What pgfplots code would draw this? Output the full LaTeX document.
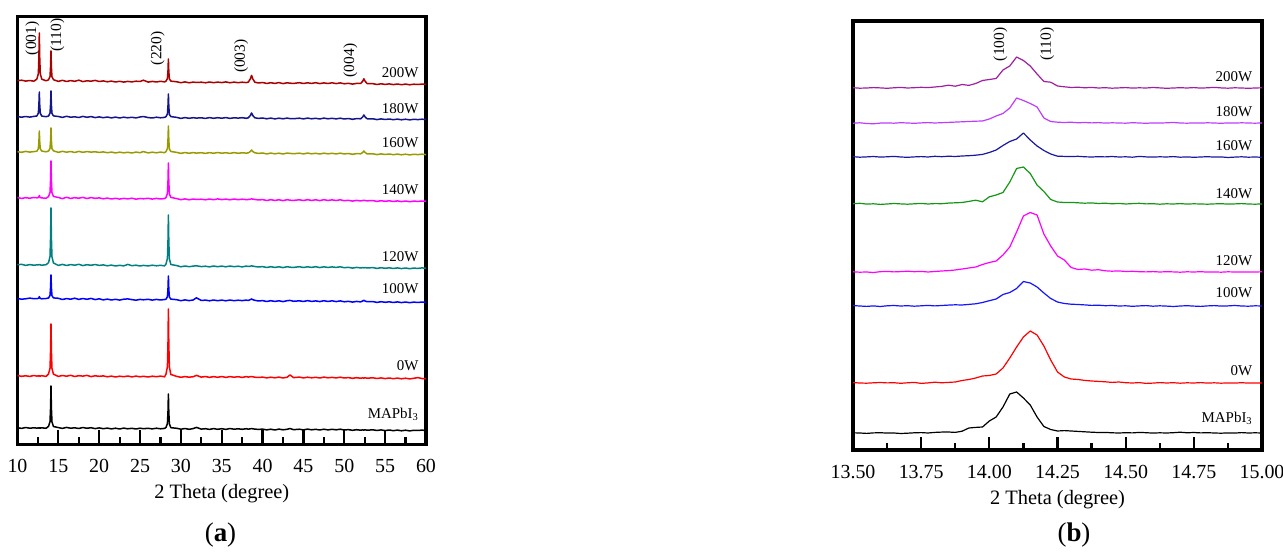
\documentclass[border=0pt]{standalone}
\usepackage{pgfplots}
\pgfplotsset{compat=1.18}
\usepackage{pgfplotstable}
\usepackage{fontspec}
\setmainfont{Liberation Serif}

% trace colours, panel (a)
\definecolor{aW200}{RGB}{170,0,0}
\definecolor{aW180}{RGB}{20,20,140}
\definecolor{aW160}{RGB}{153,153,0}
\definecolor{aW140}{RGB}{255,0,255}
\definecolor{aW120}{RGB}{0,128,128}
\definecolor{aW100}{RGB}{0,0,255}
\definecolor{aW0}{RGB}{255,0,0}
% trace colours, panel (b)
\definecolor{bW200}{RGB}{160,30,160}
\definecolor{bW180}{RGB}{190,60,255}
\definecolor{bW160}{RGB}{25,25,160}
\definecolor{bW140}{RGB}{20,150,20}
\definecolor{bW120}{RGB}{255,0,255}
\definecolor{bW100}{RGB}{20,20,255}
\definecolor{bW0}{RGB}{255,0,0}

\newcommand{\lbl}{\fontsize{15}{17}\selectfont}
\newcommand{\pk}{\fontsize{15.5}{17}\selectfont}
\newcommand{\tck}{\fontsize{20}{24}\selectfont}

% XRD patterns, offset intensities (a.u.)
% columns: a = MAPbI3, b = 0W, c = 100W, d = 120W, e = 140W, f = 160W, g = 180W, h = 200W
\pgfplotstableread{
x a b c d e f g h
10 17.3 69.4 146.5 180.2 247.4 293.3 328.4 364.3
10.5 16.6 68.7 145.8 180.7 246.6 292.7 327.8 364.8
11 17.5 69.2 146.2 179.6 247.3 293.6 328.5 363.9
11.5 16.8 68.6 146.9 180.4 246.8 292.9 327.9 364.5
12 17.2 69.5 146.3 179.8 247.5 293.4 328.6 363.8
12.37 16.9 68.9 146.4 180.1 247.2 293.8 329.0 365.9
12.55 17.1 69.2 146.6 180.1 247.4 296.2 331.8 371.2
12.62 16.8 68.8 147.3 180.3 248.2 303.5 340.5 388
12.67 17.0 69.0 148.3 180.5 249.5 314 353 412
12.72 17.2 69.1 147.3 180.3 248.3 303.5 340.5 388
12.79 16.9 68.9 146.6 180.1 247.4 296.2 331.8 371.2
12.97 17.2 69.3 146.2 179.8 247.1 293.9 328.9 365.8
13.5 16.7 68.6 146.5 180.3 246.7 293.2 328.3 364.2
13.8 18.7 71.1 147 182.3 248.5 294 329 365.2
13.98 23.3 76.8 149.6 188.6 252.6 296.6 331.9 368.5
14.05 38 95 158 208.5 265.5 305 341 379
14.1 59 121 170 237 284 317 354 394
14.15 37 94 157.5 207.5 264.5 304.5 340 378
14.22 23.0 76.5 149.3 188.2 252.3 296.3 331.6 368.2
14.4 18.5 70.8 147.1 182 248.6 294.2 329.1 365.3
15 17.4 68.6 146.7 179.6 247.5 292.6 328.5 363.6
15.5 16.6 69.5 145.5 180.6 246.4 293.7 327.6 364.7
16 17.6 68.8 146.4 179.5 247.7 292.8 328.7 363.5
16.5 16.8 69.7 145.8 180.4 246.6 293.5 327.8 364.4
17 17.2 68.5 146.8 179.8 247.3 292.5 328.2 363.7
17.5 16.5 69.3 145.6 180.7 246.8 293.6 327.5 364.8
18 17.5 68.9 146.5 179.4 247.6 292.7 328.6 363.4
18.5 16.7 69.6 145.7 180.3 246.5 293.4 327.7 364.2
19 17.3 68.4 146.6 179.7 247.4 292.9 328.4 363.8
19.5 16.4 69.2 145.4 180.5 246.7 293.2 327.4 364.6
20 17.1 68.7 146.2 179.6 247.1 292.6 328.1 363.5
20.5 16.3 69.1 145.1 180.1 246.2 293.1 327.3 364.1
21 16.9 68.2 145.9 179.2 246.9 292.3 328.0 363.2
21.5 16.1 68.9 145.0 179.9 246.0 292.9 327.1 363.9
22 16.8 68.0 145.7 179.0 246.7 292.1 327.9 363.0
22.5 16.0 68.8 144.9 179.7 245.9 292.8 327.0 363.7
23 16.9 68.3 145.8 179.1 246.6 292.2 327.8 362.9
23.5 16.2 69.0 146.1 180.6 246.1 292.7 327.2 363.6
24 16.7 68.1 145.4 179.3 246.8 292.0 327.7 363.1
24.5 16.0 68.9 144.8 179.8 245.8 292.9 327.1 363.8
25 16.8 68.2 145.6 179.0 246.5 292.3 328.0 363.5
25.4 16.3 68.7 145.2 179.6 246.2 293.4 328.5 364.8
26 16.7 68.0 145.7 179.1 246.7 292.1 327.4 362.9
26.5 16.1 68.8 144.9 179.8 245.9 292.8 327.0 363.6
27 16.8 68.3 145.6 179.2 246.6 292.2 327.8 363.0
27.5 16.2 68.9 145.0 179.7 246.0 292.9 327.2 363.7
28 16.6 68.2 145.5 179.1 246.5 292.3 327.6 363.1
28.17 17.5 70.8 145.7 180.8 247.4 293.4 328.3 363.8
28.35 21.4 78.3 148.3 186.5 251.4 296.3 330.9 366.4
28.42 33.6 102.1 156.7 204.3 264 305.8 339.3 374.4
28.47 51 136 169 230 282 319 351 386
28.52 33.0 101.5 156.2 203.8 263.5 305.3 338.8 373.9
28.59 21.1 78.0 148.0 186.2 251.1 296.0 330.6 366.1
28.77 17.3 70.5 145.9 180.5 247.6 293.5 328.4 363.9
29.5 16.7 68.6 145.3 179.4 246.4 292.6 327.6 363.2
30 15.8 67.7 144.3 178.2 245.3 291.6 326.6 362.3
30.5 16.5 68.4 145.1 179.0 246.1 292.5 327.4 363.1
31 15.7 67.8 144.4 178.3 245.2 291.7 326.7 362.2
31.5 16.4 68.3 145.0 178.9 246.0 292.4 327.3 362.9
31.9 17.6 69.6 147.2 179.2 245.5 291.9 326.9 362.5
32.5 15.9 67.9 144.5 178.4 245.8 292.3 327.2 362.8
33 16.3 68.5 144.9 178.8 245.2 291.6 326.6 362.2
33.5 15.6 67.6 144.2 178.1 246.0 292.4 327.4 363.0
34 16.4 68.4 145.0 179.0 245.3 291.7 326.7 362.3
34.5 15.7 67.7 144.3 178.3 246.1 292.5 327.3 362.9
35 16.3 68.5 144.9 178.9 245.4 291.8 326.8 362.4
35.5 15.6 67.6 144.2 178.2 245.9 292.3 327.4 363.1
36 16.5 68.4 145.0 179.0 245.2 291.6 326.6 362.2
36.5 15.8 67.8 144.3 178.3 246.0 292.4 327.2 362.9
37 16.2 68.3 144.8 178.8 245.3 291.7 326.9 362.3
37.5 15.7 67.6 144.4 178.1 245.8 292.2 327.3 362.8
38 16.3 68.4 144.9 178.9 245.4 291.9 326.7 362.4
38.25 15.8 67.9 144.5 178.5 245.5 292.1 327.2 362.9
38.5 16.2 68.3 145.4 178.8 245.8 293.5 329.5 366.1
38.65 16.4 68.5 146.1 179.1 246.1 295 332 369.6
38.8 16.2 68.2 145.3 178.9 245.9 293.5 329.5 366.1
39.05 15.9 67.8 144.7 178.5 245.6 292.2 327.2 362.8
39.5 15.6 67.5 144.0 178.0 245.0 291.6 326.6 362.0
40 15.9 67.9 144.4 178.4 245.4 292.0 327.0 362.5
40.5 15.1 67.1 143.5 177.5 244.5 291.1 326.2 361.5
41 15.8 67.8 144.3 178.3 245.3 291.9 326.9 362.3
41.5 15.0 67.2 143.6 177.6 244.6 291.2 326.1 361.6
42 15.9 67.9 144.2 178.2 245.2 291.8 326.8 362.4
42.5 15.2 67.0 143.4 177.4 244.4 291.0 326.2 361.4
43 15.7 67.8 144.3 178.3 245.3 291.9 326.9 362.2
43.35 16.5 70.0 144.6 177.8 244.8 291.6 326.4 361.8
43.8 15.3 67.4 143.7 177.6 244.6 291.3 326.3 361.6
44.5 15.8 67.9 144.2 178.3 245.2 291.8 326.8 362.3
45 15.1 67.1 143.5 177.5 244.5 291.1 326.1 361.5
45.5 15.9 67.8 144.4 178.2 245.3 291.9 326.9 362.2
46 15.2 67.2 143.6 177.6 244.6 291.2 326.2 361.6
46.5 15.7 67.7 144.1 178.3 245.2 291.7 326.7 362.3
47 15.0 67.0 143.4 177.4 244.4 291.0 326.0 361.4
47.5 15.8 67.9 144.3 178.2 245.3 291.8 326.9 362.1
48 15.1 67.2 143.5 177.5 244.6 291.2 326.2 361.5
48.5 15.7 67.6 144.2 178.1 245.1 291.7 326.7 362.2
49 15.2 67.1 143.4 177.6 244.5 291.1 326.1 361.4
49.5 15.8 67.8 144.1 178.2 245.2 291.8 326.8 362.1
50 15.0 67.0 143.2 177.3 244.3 291.1 326.0 361.2
50.5 15.4 67.4 143.7 177.7 244.7 291.5 326.5 361.7
51 14.7 66.7 142.9 176.9 243.9 290.7 325.7 360.9
51.5 15.3 67.3 143.6 177.6 244.6 291.4 326.4 361.6
52 14.8 66.8 143.1 177.1 244.1 291.2 326.2 361.5
52.25 15.1 67.1 144.0 177.3 244.5 292.5 328.0 363.7
52.4 14.9 66.9 144.7 177.2 244.7 294 330 366.2
52.55 15.2 67.2 143.9 177.4 244.4 292.5 328.0 363.7
52.8 14.8 66.8 143.3 177.0 244.2 291.1 326.2 361.4
53.5 15.2 67.2 143.4 177.4 244.4 291.2 326.2 361.3
54 14.5 66.5 142.6 176.6 243.6 290.4 325.4 360.5
54.5 15.1 67.1 143.3 177.3 244.3 291.1 326.1 361.2
55 14.4 66.4 142.7 176.7 243.7 290.5 325.5 360.6
55.5 15.0 67.0 143.2 177.2 244.2 291.0 326.0 361.1
56 14.3 66.3 142.5 176.5 243.5 290.3 325.3 360.4
56.5 14.9 66.9 143.1 177.1 244.1 290.9 325.9 361.0
57 14.2 66.2 142.4 176.4 243.4 290.2 325.2 360.3
57.5 14.8 66.8 143.0 177.0 244.0 290.8 325.8 360.9
58 14.1 66.1 142.3 176.3 243.3 290.1 325.1 360.2
58.5 14.7 66.7 142.9 176.9 243.9 290.7 325.7 360.8
59 14.5 67.4 142.5 176.6 243.6 290.4 325.4 360.5
59.5 14.9 66.5 143.0 177.1 244.0 290.8 325.8 360.9
60 14.5 66.3 142.6 176.7 243.7 290.4 325.5 360.6
}\fullscan

% detail of the (100)/(110) reflection
\pgfplotstableread{
x a b c d e f g h
13.500 17.2 67.4 144.4 178.2 246.3 293.3 326.8 362.3
13.525 17.0 67.0 144.0 177.8 246.7 292.8 327.2 361.8
13.550 16.6 66.8 143.6 178.0 245.9 293.1 326.5 362.0
13.575 17.1 67.2 144.1 177.5 246.2 293.5 326.2 362.4
13.600 17.3 67.5 143.5 178.3 245.6 292.9 326.9 362.1
13.625 16.9 67.1 144.2 178.6 246.0 293.2 327.1 361.7
13.650 17.0 67.3 144.5 178.1 246.5 293.6 326.8 362.2
13.675 16.5 66.7 144.0 178.4 246.1 293.0 327.3 362.6
13.700 16.8 67.2 144.3 178.8 245.8 292.7 327.0 362.0
13.725 17.2 67.6 143.8 178.3 246.2 293.1 326.7 362.3
13.750 17.4 66.6 144.2 178.6 246.6 293.4 327.1 362.7
13.775 17.0 67.1 144.6 178.0 246.0 293.0 327.4 362.4
13.800 17.6 67.8 144.1 178.5 246.4 293.7 327.0 363.0
13.825 17.9 67.2 144.5 179.0 246.3 293.3 327.3 363.6
13.850 18.0 67.6 144.9 179.4 246.9 293.8 327.6 364.8
13.875 17.6 68.0 145.2 180.0 247.2 293.5 327.9 363.8
13.900 18.8 69.5 145.0 181.0 247.5 294.0 328.2 365.5
13.925 22.0 70.5 145.6 182.0 248.6 294.3 328.5 364.6
13.950 22.6 72.0 146.2 183.0 249.8 294.8 328.8 366.5
13.975 23.0 74.0 147.5 185.5 248.2 295.6 329.0 369.5
14.000 29.0 74.5 149.3 187.5 253.2 297.5 331.0 370.5
14.025 33.0 76.0 151.0 189.0 255.0 300.0 334.0 371.5
14.050 43.0 82.0 155.5 195.0 257.5 304.5 336.5 380.0
14.075 56.0 92.0 157.5 203.0 268.0 308.5 342.0 384.0
14.100 58.0 103.0 161.5 218.0 281.5 311.0 352.0 393.0
14.125 52.0 113.0 168.5 234.0 283.0 317.0 349.5 389.5
14.150 45.0 119.0 167.0 237.5 276.5 310.0 346.5 384.0
14.175 33.0 115.0 163.0 235.0 265.0 304.0 343.0 376.0
14.200 23.5 104.0 157.0 216.0 258.5 299.5 332.0 368.5
14.225 20.5 90.0 151.5 204.0 250.5 296.0 328.5 367.8
14.250 19.0 78.0 148.0 194.0 248.0 293.8 327.8 364.0
14.275 19.4 73.0 146.5 190.0 247.5 293.6 327.5 363.2
14.300 19.0 71.0 145.8 182.5 247.6 293.4 327.8 362.5
14.325 18.6 70.5 145.5 180.5 247.2 293.7 327.2 362.8
14.350 18.2 69.6 145.1 181.0 246.8 293.2 327.5 362.2
14.375 17.8 69.0 144.6 179.8 247.1 293.0 327.1 362.6
14.400 17.5 68.6 144.8 180.3 246.5 293.3 327.4 362.0
14.425 17.6 68.2 144.3 179.2 246.8 293.1 326.9 362.3
14.450 17.2 67.6 144.5 178.8 246.2 293.5 327.2 361.8
14.475 17.0 68.0 144.0 179.1 246.6 293.0 327.0 362.1
14.500 17.3 67.3 144.2 178.5 246.0 293.2 326.8 362.4
14.525 17.1 67.0 143.7 178.7 246.4 292.8 327.3 361.9
14.550 17.6 67.4 144.1 178.3 246.7 293.6 327.0 362.2
14.575 17.3 66.6 144.4 178.1 246.1 293.1 326.7 362.0
14.600 16.9 66.9 143.8 178.4 246.3 292.9 327.1 362.5
14.625 17.2 67.4 144.2 178.0 245.8 293.2 326.9 362.1
14.650 17.0 67.0 143.9 178.3 246.2 293.0 327.2 361.7
14.675 17.3 67.3 143.5 178.1 246.0 293.4 327.5 362.0
14.700 17.8 66.8 144.0 177.8 246.4 292.8 327.0 362.3
14.725 17.2 67.2 144.3 178.2 245.9 293.1 326.8 362.0
14.750 17.5 67.0 143.9 178.0 246.2 292.7 327.1 362.4
14.775 17.1 67.4 143.6 178.3 246.0 293.0 326.9 361.9
14.800 17.3 66.9 144.1 177.9 245.8 293.3 327.2 362.2
14.825 17.0 67.2 144.4 178.1 246.1 292.9 327.0 362.6
14.850 16.8 66.8 143.9 177.8 246.3 293.1 326.7 362.1
14.875 17.1 67.1 144.1 178.2 245.9 292.5 327.1 361.8
14.900 16.9 66.9 144.5 178.0 246.1 292.9 326.9 362.2
14.925 17.4 67.3 144.0 177.9 246.4 293.2 327.2 362.0
14.950 17.0 66.9 143.8 178.1 246.0 292.8 327.0 361.7
14.975 17.2 67.1 144.2 178.0 245.8 293.0 326.8 362.0
15.000 17.0 67.0 144.0 178.2 246.1 292.7 327.1 362.2
}\zoomscan

\pgfplotsset{
  xrdframe/.style={
    scale only axis, anchor=south west, clip=false,
    ytick=\empty, xtick pos=bottom, tick align=inside,
    minor x tick num=1,
    tick style={line width=2.2bp, black},
    axis line style={line width=3.2bp, line cap=rect},
    /pgf/number format/assume math mode=true,
    xticklabel style={font=\tck, anchor=base, yshift=-28bp},
    xlabel={2 Theta (degree)},
    xlabel style={font=\fontsize{20.5}{24}\selectfont,
      at={(axis description cs:0.5,0)}, anchor=base, yshift=-54bp},
  },
}

\begin{document}
\begin{tikzpicture}
\path[use as bounding box] (0,0) rectangle (1283bp,552bp);

% (a) full pattern
\begin{axis}[xrdframe,
  at={(17.5bp,107.5bp)}, width=408.5bp, height=428bp,
  xmin=10, xmax=60, ymin=0.5, ymax=428.5,
  xtick={10,15,...,60},
  major tick length=14bp, minor tick length=7bp,
]
\addplot[black,  line width=1.5bp, line join=round] table[x=x,y=a] {\fullscan};
\addplot[aW0,    line width=1.5bp, line join=round] table[x=x,y=b] {\fullscan};
\addplot[aW100,  line width=1.5bp, line join=round] table[x=x,y=c] {\fullscan};
\addplot[aW120,  line width=1.5bp, line join=round] table[x=x,y=d] {\fullscan};
\addplot[aW140,  line width=1.5bp, line join=round] table[x=x,y=e] {\fullscan};
\addplot[aW160,  line width=1.5bp, line join=round] table[x=x,y=f] {\fullscan};
\addplot[aW180,  line width=1.5bp, line join=round] table[x=x,y=g] {\fullscan};
\addplot[aW200,  line width=1.5bp, line join=round] table[x=x,y=h] {\fullscan};

\node[anchor=base east, font=\lbl] at (axis cs:59.5,367.7) {200W};
\node[anchor=base east, font=\lbl] at (axis cs:59.5,331.7) {180W};
\node[anchor=base east, font=\lbl] at (axis cs:59.5,297.7) {160W};
\node[anchor=base east, font=\lbl] at (axis cs:59.5,250.0) {140W};
\node[anchor=base east, font=\lbl] at (axis cs:59.5,183.3) {120W};
\node[anchor=base east, font=\lbl] at (axis cs:59.5,151.0) {100W};
\node[anchor=base east, font=\lbl] at (axis cs:59.5,74.3) {0W};
\node[anchor=base east, font=\lbl] at (axis cs:59.5,26.7) {MAPbI\textsubscript{3}};

\node[rotate=90, font=\pk] at (axis cs:11.84,406.7) {(001)};
\node[rotate=90, font=\pk] at (axis cs:14.90,410.0) {(110)};
\node[rotate=90, font=\pk] at (axis cs:27.17,396.7) {(220)};
\node[rotate=90, font=\pk] at (axis cs:37.38,388.8) {(003)};
\node[rotate=90, font=\pk] at (axis cs:50.74,384.5) {(004)};
\end{axis}

% (b) detail around 14 degrees
\begin{axis}[xrdframe,
  at={(853bp,102bp)}, width=409bp, height=429bp,
  xmin=13.5, xmax=15, ymin=0, ymax=429,
  xtick={13.5,13.75,14,14.25,14.5,14.75,15},
  xticklabels={13.50,13.75,14.00,14.25,14.50,14.75,15.00},
  major tick length=13bp, minor tick length=7bp,
]
\addplot[black,  line width=1.2bp, line join=round] table[x=x,y=a] {\zoomscan};
\addplot[bW0,    line width=1.2bp, line join=round] table[x=x,y=b] {\zoomscan};
\addplot[bW100,  line width=1.2bp, line join=round] table[x=x,y=c] {\zoomscan};
\addplot[bW120,  line width=1.2bp, line join=round] table[x=x,y=d] {\zoomscan};
\addplot[bW140,  line width=1.2bp, line join=round] table[x=x,y=e] {\zoomscan};
\addplot[bW160,  line width=1.2bp, line join=round] table[x=x,y=f] {\zoomscan};
\addplot[bW180,  line width=1.2bp, line join=round] table[x=x,y=g] {\zoomscan};
\addplot[bW200,  line width=1.2bp, line join=round] table[x=x,y=h] {\zoomscan};

\node[anchor=base east, font=\lbl] at (axis cs:14.977,368.3) {200W};
\node[anchor=base east, font=\lbl] at (axis cs:14.977,333.3) {180W};
\node[anchor=base east, font=\lbl] at (axis cs:14.977,299.3) {160W};
\node[anchor=base east, font=\lbl] at (axis cs:14.977,251.0) {140W};
\node[anchor=base east, font=\lbl] at (axis cs:14.977,184.3) {120W};
\node[anchor=base east, font=\lbl] at (axis cs:14.977,152.7) {100W};
\node[anchor=base east, font=\lbl] at (axis cs:14.977,74.3) {0W};
\node[anchor=base east, font=\lbl] at (axis cs:14.977,27.3) {MAPbI\textsubscript{3}};

\node[rotate=90, font=\pk] at (axis cs:14.041,405.7) {(100)};
\node[rotate=90, font=\pk] at (axis cs:14.212,405.7) {(110)};
\end{axis}

\node[anchor=base, font=\fontsize{27}{30}\selectfont] at (220.5bp,11bp) {(\textbf{a})};
\node[anchor=base, font=\fontsize{27}{30}\selectfont] at (1074bp,11bp) {(\textbf{b})};
\end{tikzpicture}
\end{document}
